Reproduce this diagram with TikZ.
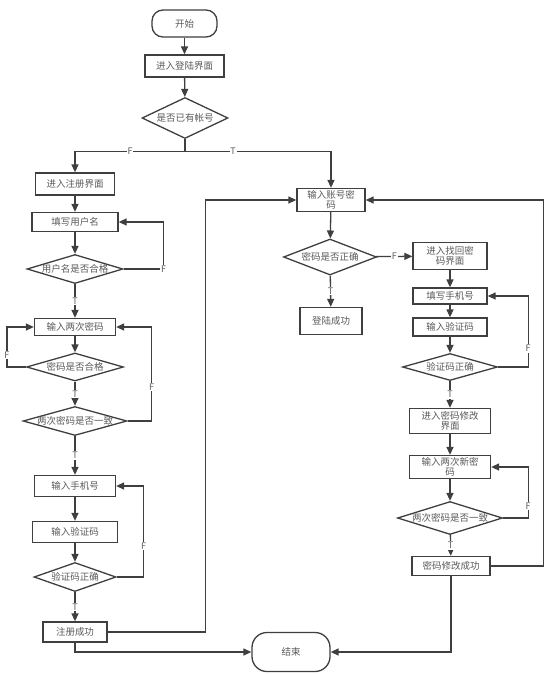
\documentclass[tikz,border=0pt]{standalone}
\usepackage{fontspec}
\setmainfont{Noto Sans CJK SC}
\usepackage{xcolor}
\usetikzlibrary{arrows.meta,shapes.geometric}

\definecolor{linegray}{HTML}{3F3F3F}
\definecolor{textgray}{HTML}{5A5A5A}
\newcommand{\dtext}[1]{\makebox[0pt]{#1}}

\begin{document}
\begin{tikzpicture}[
    x=1pt, y=-1pt,
    box/.style={
        rectangle,
        draw=linegray,
        fill=white,
        line width=1.3pt,
        inner sep=1pt,
        align=center,
        text=textgray,
        font=\fontsize{9.5}{10.5}\selectfont
    },
    term/.style={
        box,
        rounded corners=11pt
    },
    decision/.style={
        diamond,
        draw=linegray,
        fill=white,
        line width=1.3pt,
        inner sep=0pt,
        text=textgray,
        font=\fontsize{9.5}{10.5}\selectfont
    },
    arrow/.style={
        -{Triangle[length=8pt,width=7pt]},
        draw=linegray,
        line width=1.3pt
    },
    lbl/.style={
        fill=white,
        inner sep=0.8pt,
        text=textgray,
        font=\fontsize{9}{10}\selectfont
    }
]
\useasboundingbox (0,0) rectangle (554,675);

% ---------------- TOP ----------------

\node[term, minimum width=65pt, minimum height=27pt] (start) at (184.5,23.5)
    {开始};

\node[box, minimum width=79pt, minimum height=22pt] (enter) at (184.5,66)
    {进入登陆界面};

\node[decision, minimum width=86pt, minimum height=41pt] (have) at (185,118)
    {\dtext{是否已有帐号}};

% ---------------- LEFT: REGISTER ----------------

\node[box, minimum width=79pt, minimum height=22pt] (reg) at (75,184)
    {进入注册界面};

\node[box, minimum width=86pt, minimum height=19pt] (uname) at (75,222)
    {填写用户名};

\node[decision, minimum width=96pt, minimum height=29pt] (unameok) at (75,269)
    {\dtext{用户名是否合格}};

\node[box, minimum width=81pt, minimum height=17pt] (pwd) at (75,327)
    {输入两次密码};

\node[decision, minimum width=97pt, minimum height=28pt] (pwdok) at (75,367)
    {\dtext{密码是否合格}};

\node[decision, minimum width=104pt, minimum height=29pt] (pwdsame) at (75,421)
    {\dtext{两次密码是否一致}};

\node[box, minimum width=81pt, minimum height=21pt] (phone) at (75,486)
    {输入手机号};

\node[box, minimum width=85pt, minimum height=21pt] (code) at (75,532)
    {输入验证码};

\node[decision, minimum width=82pt, minimum height=29pt] (codeok) at (75,577)
    {\dtext{验证码正确}};

\node[box, minimum width=64pt, minimum height=20pt] (regok) at (75,632)
    {注册成功};

% ---------------- MIDDLE: LOGIN ----------------

\node[box, minimum width=68pt, minimum height=23pt] (login) at (331,200)
    {输入账号密\\码};

\node[decision, minimum width=93pt, minimum height=36pt] (loginok) at (330,257)
    {\dtext{密码是否正确}};

\node[box, minimum width=62pt, minimum height=27pt] (loginsucc) at (331,321)
    {登陆成功};

% ---------------- RIGHT: RESET ----------------

\node[box, minimum width=74pt, minimum height=27pt] (find) at (450,256)
    {进入找回密\\码界面};

\node[box, minimum width=74pt, minimum height=16pt] (fphone) at (450,296)
    {填写手机号};

\node[box, minimum width=74pt, minimum height=18pt] (fcode) at (450,327)
    {输入验证码};

\node[decision, minimum width=95pt, minimum height=27pt] (fcodeok) at (450,367)
    {\dtext{验证码正确}};

\node[box, minimum width=81pt, minimum height=25pt] (reset) at (450,421)
    {进入密码修改\\界面};

\node[box, minimum width=81pt, minimum height=23pt] (newpwd) at (450,467)
    {输入两次新密\\码};

\node[decision, minimum width=105pt, minimum height=33pt] (newsame) at (450,518)
    {\dtext{两次密码是否一致}};

\node[box, minimum width=78pt, minimum height=19pt] (resetok) at (451,566)
    {密码修改成功};

\node[term, minimum width=78pt, minimum height=39pt, rounded corners=15pt] (end) at (291,652)
    {结束};


\draw[arrow] (start) -- (enter);
\draw[arrow] (enter) -- (have);

\draw[arrow] (have.south) -- ++(0,12.5)
    -| node[pos=0.25,lbl]{F} (reg);
\draw[arrow] (have.south) -- ++(0,12.5)
    -| node[pos=0.165,lbl]{T} (login);

\draw[arrow] (reg) -- (uname);
\draw[arrow] (uname) -- (unameok);
\draw[arrow] (unameok) -- node[lbl]{T} (pwd);
\draw[arrow] (unameok.east) -- ++(40,0) node[lbl]{F}
    |- (uname.east);

\draw[arrow] (pwd) -- (pwdok);
\draw[arrow] (pwdok.west) -- ++(-19,0)
    |- node[pos=0.15,lbl]{F} (pwd.west);
\draw[arrow] (pwdok) -- node[lbl]{T} (pwdsame);
\draw[arrow] (pwdsame.east) -- ++(24,0)
    |- node[pos=0.18,lbl]{F} (pwd.east);

\draw[arrow] (pwdsame) -- node[lbl]{T} (phone);
\draw[arrow] (phone) -- (code);
\draw[arrow] (code) -- (codeok);
\draw[arrow] (codeok.east) -- ++(27,0)
    |- node[pos=0.17,lbl]{F} (phone.east);
\draw[arrow] (codeok) -- node[lbl]{T} (regok);

\draw[arrow] (regok.east) -- ++(98,0)
    |- (login.west);
\draw[arrow] (regok.south) |- (end.west);

\draw[arrow] (login) -- (loginok);
\draw[arrow] (loginok) -- node[lbl]{T} (loginsucc);
\draw[arrow] (loginok) -- node[lbl]{F} (find);

\draw[arrow] (find) -- (fphone);
\draw[arrow] (fphone) -- (fcode);
\draw[arrow] (fcode) -- (fcodeok);
\draw[arrow] (fcodeok.east) -- ++(30,0)
    |- node[pos=0.13,lbl]{F} (fphone.east);
\draw[arrow] (fcodeok) -- node[lbl]{T} (reset);

\draw[arrow] (reset) -- (newpwd);
\draw[arrow] (newpwd) -- (newsame);
\draw[arrow] (newsame.east) -- ++(25,0)
    |- node[pos=0.12,lbl]{F} (newpwd.east);
\draw[arrow] (newsame) -- node[lbl]{T} (resetok);

\draw[arrow] (resetok.east) -- ++(53,0)
    |- (login.east);
\draw[arrow] (resetok.south) |- (end.east);

\end{tikzpicture}
\end{document}
